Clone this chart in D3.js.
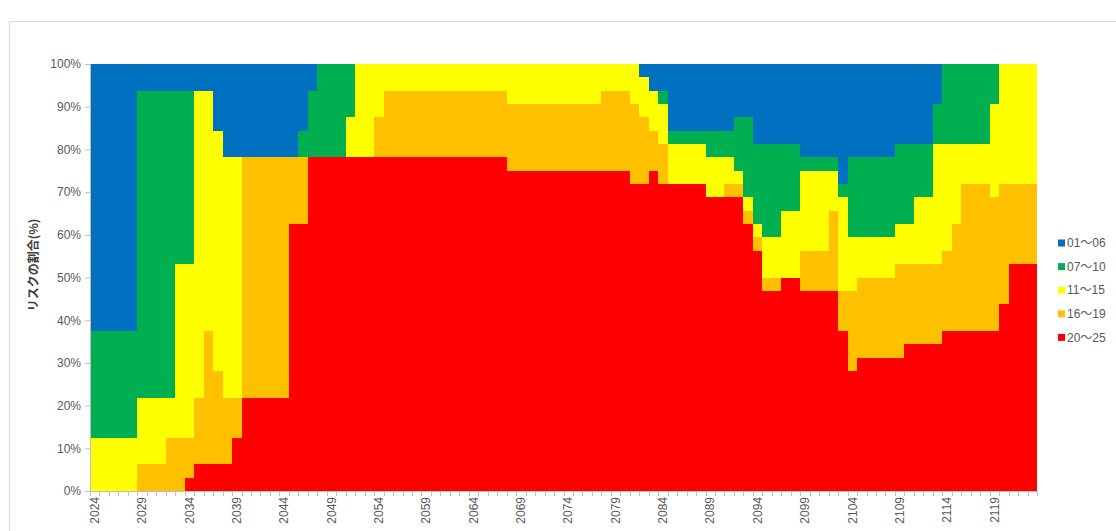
<!DOCTYPE html>
<html>
<head>
<meta charset="utf-8">
<title>リスクの割合</title>
<script src="https://d3js.org/d3.v7.min.js"></script>
<style>
  body { margin: 0; background: #fff; }
  text { font-family: "Liberation Sans", Arial, "Noto Sans CJK JP", sans-serif; fill: #595959; }
</style>
</head>
<body>
<svg width="1116" height="531"></svg>
<script>
// categories: one column per year
const years = d3.range(2024, 2124);
const labelYears = years.filter(y => (y - 2024) % 5 === 0);
const yTicks = [0, 0.1, 0.2, 0.3, 0.4, 0.5, 0.6, 0.7, 0.8, 0.9, 1];

// series (counts per year, stacked to 100%)
const names = ["01～06", "07～10", "11～15", "16～19", "20～25"];
const colors = ["#0070C0", "#00B050", "#FFFF00", "#FFC000", "#FF0000"];

const s0106 = [
  20,20,20,20,20,2,2,2,2,2,
  2,2,2,5,7,7,7,7,7,7,
  7,7,5,2,0,0,0,0,0,0,
  0,0,0,0,0,0,0,0,0,0,
  0,0,0,0,0,0,0,0,0,0,
  0,0,0,0,0,0,0,0,1,2,
  2,5,5,5,5,5,5,5,4,4,
  6,6,6,6,6,7,7,7,7,9,
  7,7,7,7,7,6,6,6,6,3,
  0,0,0,0,0,0,0,0,0,0
];
const s0710 = [
  8,8,8,8,8,23,23,23,23,13,
  13,0,0,0,0,0,0,0,0,0,
  0,0,2,5,7,7,7,4,0,0,
  0,0,0,0,0,0,0,0,0,0,
  0,0,0,0,0,0,0,0,0,0,
  0,0,0,0,0,0,0,0,0,0,
  1,1,1,1,1,2,2,2,4,6,
  6,7,7,5,5,1,1,1,1,1,
  6,6,6,6,6,6,6,4,4,3,
  6,6,6,6,6,3,0,0,0,0
];
const s1115 = [
  4,4,4,4,4,5,5,5,3,13,
  13,23,18,18,18,18,0,0,0,0,
  0,0,0,0,0,0,0,3,7,7,
  4,2,2,2,2,2,2,2,2,2,
  2,2,2,2,3,3,3,3,3,3,
  3,3,3,3,2,2,2,3,3,3,
  3,3,3,3,3,3,3,2,1,1,
  1,3,3,5,5,6,6,6,3,7,
  4,3,3,3,3,3,3,5,5,9,
  8,6,3,3,3,7,9,9,9,9
];
const s1619 = [
  0,0,0,0,0,2,2,2,4,4,
  3,5,10,7,5,3,18,18,18,18,
  18,5,5,0,0,0,0,0,0,0,
  3,5,5,5,5,5,5,5,5,5,
  5,5,5,5,5,5,5,5,5,5,
  5,5,5,5,6,6,6,6,5,3,
  3,0,0,0,0,0,0,1,1,1,
  1,1,1,0,0,3,3,3,6,3,
  6,6,6,6,6,7,6,6,6,6,
  6,8,11,11,11,10,9,6,6,6
];
const s2025 = [
  0,0,0,0,0,0,0,0,0,0,
  1,2,2,2,2,4,7,7,7,7,
  7,20,20,25,25,25,25,25,25,25,
  25,25,25,25,25,25,25,25,25,25,
  25,25,25,25,24,24,24,24,24,24,
  24,24,24,24,24,24,24,23,23,24,
  23,23,23,23,23,22,22,22,22,20,
  18,15,15,16,16,15,15,15,15,12,
  9,10,10,10,10,10,11,11,11,11,
  12,12,12,12,12,12,14,17,17,17
];
const seriesValues = [s0106, s0710, s1115, s1619, s2025];

const plotLeft = 90, plotRight = 1037, plotTop = 64, plotBottom = 491;
const svg = d3.select("svg");

// chart area border (runs off the right and bottom edges)
svg.append("rect")
  .attr("x", 9.5).attr("y", 21.5)
  .attr("width", 1120).attr("height", 540)
  .attr("fill", "none").attr("stroke", "#d9d9d9");

const table = years.map((yr, i) => {
  const row = { year: yr };
  names.forEach((n, k) => row[n] = seriesValues[k][i]);
  return row;
});

const x = d3.scaleBand().domain(years).range([plotLeft, plotRight]).padding(0);
const y = d3.scaleLinear().domain([0, 1]).range([plotBottom, plotTop]);
const color = d3.scaleOrdinal().domain(names).range(colors);

// bottom of the stack is 20～25
const layers = d3.stack()
  .keys(names.slice().reverse())
  .offset(d3.stackOffsetExpand)(table);

svg.append("g")
  .attr("shape-rendering", "crispEdges")
  .selectAll("g")
  .data(layers)
  .join("g")
  .attr("fill", d => color(d.key))
  .selectAll("rect")
  .data(d => d)
  .join("rect")
  .attr("x", d => Math.round(x(d.data.year)))
  .attr("width", d => Math.round(x(d.data.year) + x.bandwidth()) - Math.round(x(d.data.year)))
  .attr("y", d => Math.round(y(d[1])))
  .attr("height", d => Math.round(y(d[0])) - Math.round(y(d[1])));

// y axis
const yAxis = svg.append("g")
  .attr("transform", `translate(${plotLeft},0)`)
  .call(d3.axisLeft(y).tickValues(yTicks).tickFormat(d3.format(".0%")).tickSize(5).tickPadding(4));
yAxis.select(".domain").attr("stroke", "#bfbfbf");
yAxis.selectAll(".tick line").attr("stroke", "#bfbfbf");
yAxis.selectAll("text").attr("font-size", 12).style("fill", "#595959");

// x axis: line, a tick between every column, a label every 5 years
const xg = svg.append("g");
xg.append("line")
  .attr("x1", plotLeft).attr("x2", plotRight)
  .attr("y1", plotBottom + 0.5).attr("y2", plotBottom + 0.5)
  .attr("stroke", "#bfbfbf");
xg.selectAll(".mtick")
  .data(years.concat([null]))
  .join("line")
  .attr("class", "mtick")
  .attr("x1", (d, i) => Math.round(plotLeft + i * x.step()) + 0.5)
  .attr("x2", (d, i) => Math.round(plotLeft + i * x.step()) + 0.5)
  .attr("y1", plotBottom).attr("y2", plotBottom + 5)
  .attr("stroke", "#bfbfbf");
xg.selectAll(".xlab")
  .data(labelYears)
  .join("text")
  .attr("class", "xlab")
  .attr("transform", d => `translate(${x(d) + x.bandwidth() / 2},497) rotate(-90)`)
  .attr("text-anchor", "end")
  .attr("dy", "0.35em")
  .attr("font-size", 12)
  .text(d => d);

// y axis title
svg.append("text")
  .attr("transform", "translate(34,265) rotate(-90)")
  .attr("text-anchor", "middle")
  .attr("dy", "0.35em")
  .attr("font-size", 12)
  .attr("font-weight", "bold")
  .style("font-family", "'Noto Sans CJK JP', sans-serif")
  .style("fill", "#404040")
  .text("リスクの割合(%)");

// legend
const legend = svg.append("g")
  .selectAll("g")
  .data(names)
  .join("g")
  .attr("transform", (d, i) => `translate(1058,${243 + i * 23.6})`);
legend.append("rect")
  .attr("x", 0).attr("y", -3.5)
  .attr("width", 7).attr("height", 7)
  .attr("fill", d => color(d));
legend.append("text")
  .attr("x", 9).attr("dy", "0.35em")
  .attr("font-size", 12)
  .text(d => d);
</script>
</body>
</html>
